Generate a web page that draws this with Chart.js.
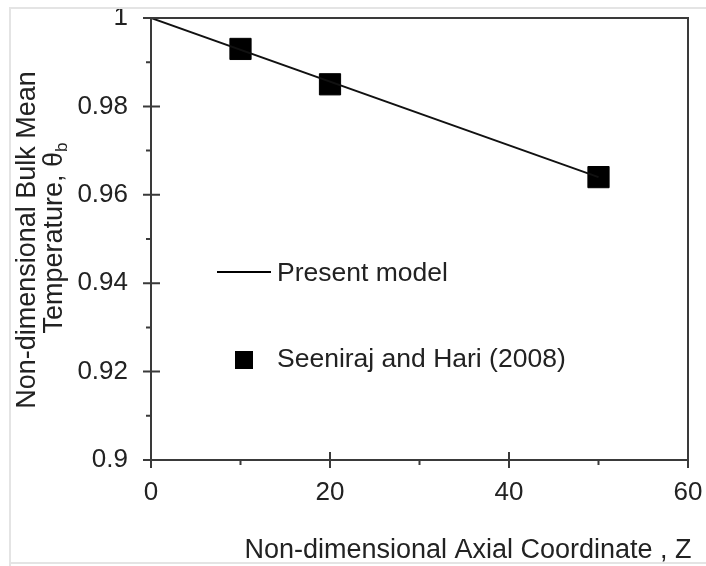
<!DOCTYPE html>
<html>
<head>
<meta charset="utf-8">
<script src="https://cdn.jsdelivr.net/npm/chart.js@4.4.1/dist/chart.umd.min.js"></script>
<style>
  body { margin: 0; background: #fff; }
  #wrap { width: 706px; height: 566px; }
</style>
</head>
<body>
<div id="wrap"><canvas id="chart" width="706" height="566"></canvas></div>
<script>
// Present model (straight line) and reference data points
const modelZ = [0, 50];
const modelTheta = [1.0, 0.964];
const refZ = [10, 20, 50];
const refTheta = [0.993, 0.985, 0.964];

// Axis ticks
const xTicks = [0, 20, 40, 60];
const xMinor = [10, 30, 50];
const yTicks = [0.9, 0.92, 0.94, 0.96, 0.98, 1];
const yMinor = [0.91, 0.93, 0.95, 0.97, 0.99];

const FONT = "'Liberation Sans', Arial, sans-serif";
const AXIS = '#3a3a3a';

// Frame, tick marks, axis titles and legend drawn on top
const decorations = {
  id: 'decorations',
  afterDraw(chart) {
    const ctx = chart.ctx;
    const a = chart.chartArea;
    const xs = chart.scales.x, ys = chart.scales.y;
    ctx.save();

    // light page border
    ctx.strokeStyle = '#e4e4e4';
    ctx.lineWidth = 2;
    ctx.beginPath();
    ctx.moveTo(10, 566); ctx.lineTo(10, 8); ctx.lineTo(706, 8);
    ctx.moveTo(10, 563); ctx.lineTo(706, 563);
    ctx.stroke();

    // plot frame
    ctx.strokeStyle = AXIS;
    ctx.lineWidth = 2;
    ctx.strokeRect(a.left, a.top, a.right - a.left, a.bottom - a.top);

    // y tick marks
    ctx.beginPath();
    yTicks.forEach(v => {
      const y = ys.getPixelForValue(v);
      ctx.moveTo(a.left - 8, y); ctx.lineTo(a.left + 9, y);
    });
    yMinor.forEach(v => {
      const y = ys.getPixelForValue(v);
      ctx.moveTo(a.left - 5, y); ctx.lineTo(a.left, y);
    });
    // x tick marks
    xTicks.forEach(v => {
      const x = xs.getPixelForValue(v);
      ctx.moveTo(x, a.bottom - 8); ctx.lineTo(x, a.bottom + 8);
    });
    xMinor.forEach(v => {
      const x = xs.getPixelForValue(v);
      ctx.moveTo(x, a.bottom); ctx.lineTo(x, a.bottom + 5);
    });
    ctx.stroke();

    // axis titles
    ctx.fillStyle = '#222';
    ctx.font = '27px ' + FONT;
    ctx.textAlign = 'center';
    ctx.textBaseline = 'alphabetic';
    ctx.fillText('Non-dimensional Axial Coordinate , Z', 468, 558);

    ctx.save();
    ctx.translate(35, 240);
    ctx.rotate(-Math.PI / 2);
    ctx.fillText('Non-dimensional Bulk Mean', 0, 0);
    ctx.restore();

    ctx.save();
    ctx.translate(62, 238);
    ctx.rotate(-Math.PI / 2);
    const main = 'Temperature, \u03B8';
    ctx.font = '27px ' + FONT;
    const w1 = ctx.measureText(main).width;
    ctx.font = '17px ' + FONT;
    const w2 = ctx.measureText('b').width;
    const start = -(w1 + w2) / 2;
    ctx.textAlign = 'left';
    ctx.font = '27px ' + FONT;
    ctx.fillText(main, start, 0);
    ctx.font = '17px ' + FONT;
    ctx.fillText('b', start + w1, 5);
    ctx.restore();

    // legend
    ctx.font = '26.5px ' + FONT;
    ctx.textAlign = 'left';
    ctx.textBaseline = 'middle';
    ctx.strokeStyle = '#000';
    ctx.lineWidth = 2;
    ctx.beginPath();
    ctx.moveTo(217, 272); ctx.lineTo(271, 272);
    ctx.stroke();
    ctx.fillText('Present model', 277, 274);
    ctx.fillStyle = '#000';
    ctx.fillRect(235, 351, 18, 18);
    ctx.fillStyle = '#222';
    ctx.fillText('Seeniraj and Hari (2008)', 277, 360);

    ctx.restore();
  }
};

new Chart(document.getElementById('chart').getContext('2d'), {
  type: 'scatter',
  data: {
    datasets: [{
      label: 'Present model',
      data: modelZ.map((z, i) => ({ x: z, y: modelTheta[i] })),
      showLine: true,
      borderColor: '#111',
      borderWidth: 2,
      pointRadius: 0
    }, {
      label: 'Seeniraj and Hari (2008)',
      data: refZ.map((z, i) => ({ x: z, y: refTheta[i] })),
      showLine: false,
      pointStyle: 'rect',
      pointRadius: 15,
      backgroundColor: '#000',
      borderColor: '#000',
      borderWidth: 1
    }]
  },
  options: {
    responsive: false,
    animation: false,
    layout: { padding: { top: 18, right: 18, left: 0, bottom: 0 } },
    plugins: {
      legend: { display: false },
      tooltip: { enabled: false }
    },
    scales: {
      x: {
        type: 'linear',
        min: 0,
        max: 60,
        afterBuildTicks: s => { s.ticks = xTicks.map(v => ({ value: v })); },
        afterFit: s => {
          s.height = 106;
          s.paddingLeft = 0; s.paddingRight = 0;
        },
        grid: { display: false, drawTicks: false },
        border: { display: false },
        ticks: {
          padding: 17,
          color: '#222',
          font: { family: FONT, size: 26 },
          callback: v => String(v)
        }
      },
      y: {
        type: 'linear',
        min: 0.9,
        max: 1,
        afterBuildTicks: s => { s.ticks = yTicks.map(v => ({ value: v })); },
        afterFit: s => {
          s.width = 151;
          s.paddingTop = 0; s.paddingBottom = 0;
        },
        grid: { display: false, drawTicks: false },
        border: { display: false },
        ticks: {
          padding: 23,
          color: '#222',
          font: { family: FONT, size: 26 },
          callback: v => String(+v.toFixed(2))
        }
      }
    }
  },
  plugins: [decorations]
});
</script>
</body>
</html>
